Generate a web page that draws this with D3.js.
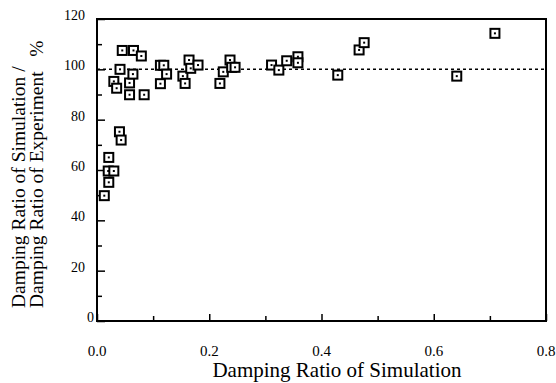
<!DOCTYPE html>
<html>
<head>
<meta charset="utf-8">
<script src="https://cdn.jsdelivr.net/npm/d3@7"></script>
<style>
  body { margin: 0; background: #fff; }
  text { font-family: "Liberation Serif", "DejaVu Serif", serif; fill: #000; }
</style>
</head>
<body>
<div id="chart"></div>
<script>
// damping ratio of simulation (x) and ratio simulation/experiment in % (y)
const simRatio = [0.013, 0.020, 0.030, 0.021, 0.021, 0.040, 0.043, 0.030, 0.035,
  0.041, 0.045, 0.058, 0.058, 0.064, 0.065, 0.079, 0.084,
  0.113, 0.119, 0.124, 0.113, 0.153, 0.157, 0.164, 0.167, 0.180,
  0.219, 0.225, 0.237, 0.240, 0.246,
  0.311, 0.324, 0.338, 0.358, 0.358, 0.429, 0.467, 0.476, 0.641, 0.709];
const ratioPct = [49.8, 59.6, 59.6, 55.1, 65.0, 75.2, 71.9, 95.2, 92.5,
  100.0, 107.5, 94.6, 89.9, 98.1, 107.5, 105.3, 89.9,
  101.6, 101.6, 98.1, 94.3, 97.3, 94.4, 103.7, 100.4, 101.7,
  94.4, 99.0, 103.7, 100.8, 100.8,
  101.7, 99.7, 103.4, 105.0, 102.6, 97.7, 107.7, 110.6, 97.3, 114.3];
const xTicks = [0, 0.2, 0.4, 0.6, 0.8];
const yTicks = [0, 20, 40, 60, 80, 100, 120];
const refLine = 100;

const width = 556, height = 383;
const margin = { top: 19, right: 10, bottom: 62, left: 97 };

const svg = d3.select('#chart').append('svg')
  .attr('width', width).attr('height', height);

const x = d3.scaleLinear().domain([0, 0.8]).range([margin.left, width - margin.right]);
const y = d3.scaleLinear().domain([0, 120]).range([height - margin.bottom, margin.top]);

// ticks pointing inward, majors a bit longer
const xAxis = svg.append('g')
  .attr('transform', `translate(0,${y(0)})`)
  .call(d3.axisBottom(x).tickValues(d3.range(0, 0.81, 0.1)).tickSize(-5).tickFormat(''));
const yAxis = svg.append('g')
  .attr('transform', `translate(${x(0)},0)`)
  .call(d3.axisLeft(y).tickValues(d3.range(0, 121, 10)).tickSize(-5).tickFormat(''));
[xAxis, yAxis].forEach(g => {
  g.select('.domain').remove();
  g.selectAll('line').attr('stroke', '#000').attr('stroke-width', 1.5);
});
xAxis.selectAll('.tick line').filter((d, i) => i % 2 === 0).attr('y2', -7);
yAxis.selectAll('.tick line').filter((d, i) => i % 2 === 0).attr('x2', 8);

// frame
svg.append('rect')
  .attr('x', x(0)).attr('y', y(120))
  .attr('width', x(0.8) - x(0)).attr('height', y(0) - y(120))
  .attr('fill', 'none').attr('stroke', '#000').attr('stroke-width', 2);

// tick labels
svg.append('g').selectAll('text').data(xTicks).join('text')
  .attr('x', d => x(d)).attr('y', 356)
  .attr('text-anchor', 'middle').attr('font-size', 15)
  .text(d => d3.format('.1f')(d));
svg.append('g').selectAll('text').data(yTicks).join('text')
  .attr('x', d => d === 0 ? x(0) - 3 : x(0) - 12).attr('y', d => y(d) + 1)
  .attr('text-anchor', 'end').attr('font-size', 14)
  .text(d => d);

// dashed 100% reference
svg.append('line')
  .attr('x1', x(0)).attr('x2', x(0.8))
  .attr('y1', y(refLine)).attr('y2', y(refLine))
  .attr('stroke', '#000').attr('stroke-width', 1.5)
  .attr('stroke-dasharray', '3,3');

// points: square with a dot
const s = 9;
const pts = svg.append('g').selectAll('g').data(simRatio).join('g')
  .attr('transform', (d, i) => `translate(${x(d)},${y(ratioPct[i])})`);
pts.append('rect')
  .attr('x', -s / 2).attr('y', -s / 2).attr('width', s).attr('height', s)
  .attr('fill', '#fff').attr('stroke', '#000').attr('stroke-width', 2);
pts.append('rect')
  .attr('x', -1).attr('y', -1).attr('width', 2).attr('height', 2)
  .attr('fill', '#000');

// axis titles
svg.append('text')
  .attr('x', 337).attr('y', 377)
  .attr('text-anchor', 'middle').attr('font-size', 21)
  .text('Damping Ratio of Simulation');
svg.append('text')
  .attr('transform', 'translate(25,308) rotate(-90)')
  .attr('font-size', 19.5)
  .text('Damping Ratio of Simulation /');
svg.append('text')
  .attr('transform', 'translate(43,308) rotate(-90)')
  .attr('font-size', 19.5)
  .text('Damping Ratio of Experiment \u00a0\u00a0%');
</script>
</body>
</html>
